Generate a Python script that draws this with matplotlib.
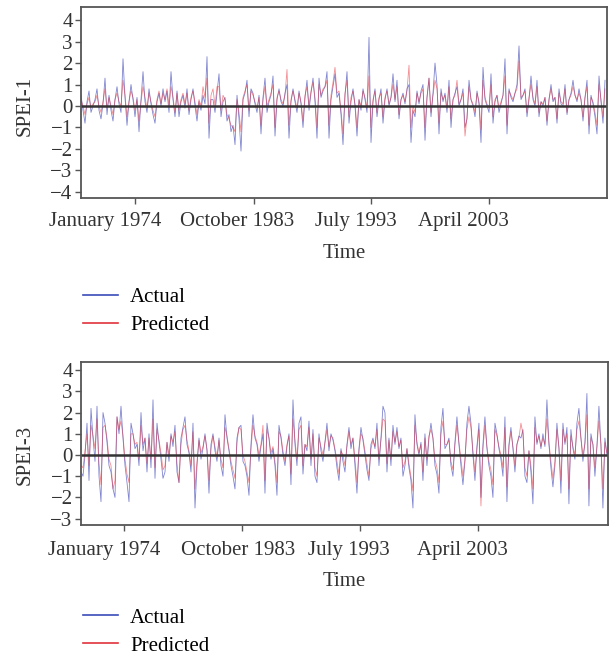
import numpy as np
import matplotlib.pyplot as plt
from matplotlib.lines import Line2D

plt.rcParams['font.family'] = ['Liberation Serif', 'DejaVu Serif']

# month index of each sample (every second month)
months_1 = np.arange(0, 525, 2)
months_3 = np.arange(0, 527, 2)

tick_labels = ['January 1974', 'October 1983', 'July 1993', 'April 2003']
ticks_1 = [54, 172.7, 290.4, 408]
ticks_3 = [43.3, 161.3, 279.5, 397.2]

spei1_actual = [
    0.5, -0.2, -0.8, 0.2, 0.7, -0.3, 0.0, 0.3, 0.8, -0.2,
    -0.6, 0.1, 1.3, -0.4, 0.5, -0.2, -0.7, 0.3, 0.9, 0.1,
    -0.3, 2.2, 0.4, -0.9, 0.2, 1.0, 0.3, -0.5, 0.4, -1.2,
    0.3, 1.6, 0.2, -0.3, 0.8, 0.1, -0.4, -0.8, 0.2, 0.6,
    0.0, 0.8, 0.2, 0.7, -0.3, 1.6, 0.3, -0.5, 0.7, -0.5,
    0.2, 0.5, -0.1, 0.8, -0.4, 0.3, 0.8, 0.0, -0.7, 0.2,
    -0.2, 0.5, 0.1, 2.3, -1.5, 0.3, 0.3, -0.3, 0.6, 1.5,
    -0.5, 0.2, 0.4, -0.7, -0.4, -1.2, -0.9, -1.8, 0.5, -0.6,
    -2.1, 0.3, 0.6, 1.2, -0.5, 0.8, 0.6, 0.1, -0.3, 0.5,
    -1.3, 0.4, 1.3, -0.3, 0.2, 0.5, 1.4, -1.4, 0.3, 0.8,
    0.2, 0.0, 0.6, 1.0, -1.5, 0.2, 0.8, 0.2, -0.3, 0.7,
    0.1, -1.0, 0.4, 1.2, -0.2, 0.6, 1.3, 0.2, -1.5, 1.3,
    0.4, 0.7, 0.9, 1.6, -1.5, 0.3, 0.9, 1.5, 0.4, 0.6,
    -0.4, -1.8, 0.5, 1.6, -0.8, 0.2, 0.8, 0.0, -1.4, 0.3,
    -0.2, 0.8, 0.3, -0.3, 3.2, -1.7, 0.2, 0.8, -0.5, 0.3,
    0.8, -0.8, 0.3, 0.8, 0.0, 0.4, 1.5, 0.2, 1.2, -0.6,
    0.3, 0.6, 0.1, 0.8, 1.0, -1.7, -0.2, -0.5, 0.7, 0.1,
    0.7, 1.0, -1.6, 0.4, 1.3, -0.5, 0.6, 2.0, 1.0, -1.3,
    0.8, 0.2, 0.6, -0.3, 1.2, -1.0, 0.3, 0.6, 0.9, 0.0,
    0.3, 0.8, -1.0, -0.6, 1.2, 0.3, 0.0, -0.5, 0.7, 0.1,
    -1.7, 1.8, 0.3, 0.0, -0.3, 1.5, -0.8, 0.2, 0.5, -0.3,
    0.1, 0.5, 2.2, -1.3, 0.8, 0.4, 0.2, 0.6, 1.0, 2.8,
    0.3, 0.5, 0.8, -0.5, 0.3, 1.4, 0.3, 0.0, 1.2, -0.5,
    0.2, 0.0, 0.4, -0.9, 0.3, 1.0, 0.2, 0.4, -0.8, 0.8,
    0.1, 0.0, 1.0, -0.4, 0.3, 0.6, 1.2, 0.5, 0.2, 0.8,
    0.3, -0.7, 0.4, 1.2, -1.3, 0.5, 0.1, -0.5, -1.3, 1.4,
    0.2, -0.8, 1.2,
]
spei1_predicted = [
    0.3, 0.0, -0.4, 0.1, 0.4, -0.1, 0.1, 0.2, 0.5, 0.0,
    -0.3, 0.2, 0.8, -0.1, 0.4, 0.0, -0.4, 0.3, 0.6, 0.2,
    0.0, 1.2, 0.5, -0.5, 0.2, 0.7, 0.4, -0.2, 0.3, -0.7,
    0.2, 0.9, 0.4, -0.1, 0.6, 0.2, -0.2, -0.5, 0.3, 0.7,
    0.1, 0.6, 0.3, 0.8, 0.0, 0.9, 0.4, -0.3, 0.6, -0.2,
    0.3, 0.6, 0.1, 0.6, -0.2, 0.4, 0.7, 0.2, -0.4, 0.3,
    0.0, 0.9, 0.4, 1.3, -0.8, 0.5, 0.8, 0.0, 0.9, 0.9,
    -0.2, 0.5, 0.3, -0.4, -0.6, -0.9, -1.0, -1.2, 0.3, -0.3,
    -1.2, 0.4, 0.7, 1.0, -0.2, 0.7, 0.5, 0.2, -0.1, 0.4,
    -0.9, 0.3, 0.9, 0.0, 0.3, 0.6, 1.0, -1.0, 0.4, 0.7,
    0.3, 0.1, 0.5, 1.7, -0.9, 0.3, 0.7, 0.3, -0.1, 0.6,
    0.2, -0.7, 0.5, 0.9, 0.0, 0.7, 1.1, 0.4, -1.0, 1.0,
    0.5, 0.8, 0.9, 1.2, -0.9, 0.5, 1.1, 1.8, 0.6, 0.7,
    -0.2, -1.3, 0.6, 1.2, -0.5, 0.4, 0.7, 0.1, -1.0, 0.3,
    0.0, 0.7, 0.4, -0.1, 1.4, -1.0, 0.3, 0.7, -0.3, 0.4,
    0.6, -0.5, 0.4, 0.7, 0.1, 0.4, 1.0, 0.3, 0.9, -0.4,
    0.3, 0.5, 0.2, 0.7, 1.9, -1.0, 0.0, -0.3, 0.6, 0.2,
    0.6, 0.8, -1.0, 0.4, 1.3, -0.3, 0.5, 1.2, 0.8, -0.8,
    0.6, 0.3, 0.5, -0.1, 0.9, -0.6, 0.3, 0.5, 1.2, 0.1,
    0.3, 0.6, -1.4, -0.5, 0.9, 0.3, 0.1, -0.3, 0.6, 0.2,
    -1.1, 1.2, 0.4, 0.1, -0.1, 1.0, -0.5, 0.3, 0.5, -0.1,
    0.2, 0.5, 1.4, -0.9, 0.7, 0.5, 0.3, 0.6, 0.8, 2.1,
    0.4, 0.5, 0.7, -0.3, 0.4, 1.0, 0.4, 0.1, 0.9, -0.3,
    0.2, 0.1, 0.4, -0.7, 0.3, 0.8, 0.3, 0.4, -0.6, 0.6,
    0.2, 0.1, 0.8, -0.3, 0.3, 0.5, 0.9, 0.5, 0.3, 0.6,
    0.3, -0.5, 0.4, 0.9, -0.9, 0.4, 0.2, -0.3, -0.9, 1.0,
    0.3, -0.5, 0.8,
]

spei3_actual = [
    -0.8, -1.0, 0.0, 1.5, -1.2, 2.2, 0.8, -0.3, 2.3, -1.0,
    -2.2, 2.0, 1.5, 0.6, -0.5, -0.8, -1.6, -2.0, 1.8, 1.0,
    2.3, 0.8, -0.5, -1.3, -2.2, 1.5, 1.0, 0.3, 0.5, -0.5,
    2.0, 0.2, 0.8, -0.8, 1.0, -0.6, 2.6, -1.1, 1.5, 0.6,
    -0.2, -1.1, -0.8, 0.6, -0.3, 1.0, 0.4, 1.4, -0.8, -1.3,
    0.8, 1.3, 1.8, 0.5, 0.1, -0.8, 1.5, -2.5, -0.5, 0.8,
    -0.2, 0.3, 1.0, 0.2, -1.8, 0.5, 1.0, 0.2, -0.3, 0.8,
    -0.5, -1.0, 1.9, 0.8, 0.2, -0.5, -1.0, -1.6, 0.8, 1.3,
    1.4, -0.3, -0.5, -1.0, -1.9, 0.5, 1.9, 0.8, 0.5, -0.3,
    0.4, 1.0, -1.8, 1.5, 0.8, -0.2, 0.3, -0.5, -1.9, 1.4,
    0.8, 0.0, -0.5, 0.4, 1.0, -1.4, 2.6, 0.5, -0.5, 1.5,
    1.8, -0.9, 0.5, 0.2, 1.6, -0.5, 1.2, -1.0, -1.3, 1.0,
    0.2, -0.3, 0.6, 1.5, 0.2, 1.0, 0.7, 0.2, -0.6, -1.2,
    0.3, -0.3, -0.8, 0.5, 1.3, 0.3, 0.8, -0.5, -1.8, 0.3,
    1.3, 0.7, 0.0, -0.7, -1.2, 0.5, 0.8, 0.3, 1.5, -0.5,
    0.8, 2.3, 2.0, -0.8, 0.8, -0.5, 1.4, 0.5, 1.3, 0.3,
    0.8, -1.0, -0.5, 0.3, -0.6, -1.2, -2.5, 1.9, 0.5, 0.0,
    0.6, -1.2, 1.0, -0.5, 0.8, 1.5, 0.8, -0.5, -0.9, -1.8,
    1.3, 2.2, 0.3, 0.5, 0.8, -0.5, -1.0, 0.6, 1.8, 0.5,
    -0.5, -1.4, -0.3, 1.5, 2.3, 1.5, 0.0, -1.2, 0.4, 1.5,
    -2.0, 0.5, 1.8, 0.3, -0.5, -1.0, -2.0, 1.5, 1.0, 0.3,
    -0.2, -1.0, 1.8, -2.2, 0.5, 1.3, 0.3, -0.8, 0.5, 0.9,
    0.8, 1.2, -1.0, -1.3, 0.2, -0.8, -2.3, 1.8, 0.5, 1.0,
    0.3, 1.0, 0.4, 2.6, 0.5, -0.6, -1.5, -0.5, 1.5, 0.3,
    -1.8, 1.5, 0.5, 1.3, -2.3, 1.2, 0.3, -0.2, 1.5, 2.2,
    0.8, -0.3, 0.6, 2.9, -2.4, 1.0, 0.5, -1.0, 0.4, 2.3,
    0.5, -2.5, 0.8, 0.0,
]
spei3_predicted = [
    -0.5, -0.6, 0.2, 1.0, -0.5, 1.4, 0.9, 0.3, 1.7, -0.4,
    -1.4, 1.3, 1.4, 0.8, -0.2, -0.5, -1.6, -1.2, 1.8, 1.2,
    1.6, 0.9, -0.2, -0.9, -1.3, 1.0, 1.0, 0.5, 0.6, -0.2,
    1.4, 0.5, 0.8, -0.4, 0.8, -0.2, 1.7, -0.6, 1.2, 0.7,
    0.1, -0.7, -0.5, 0.6, 0.0, 0.9, 0.6, 1.1, -0.4, -1.3,
    0.5, 1.2, 1.4, 0.7, 0.2, -0.5, 1.1, -1.6, -0.3, 0.7,
    0.1, 0.4, 0.9, 0.3, -1.2, 0.3, 0.9, 0.4, -0.1, 0.7,
    -0.2, -0.6, 1.3, 0.9, 0.3, -0.3, -0.7, -1.1, 0.6, 1.3,
    1.2, 0.0, -0.3, -0.8, -1.3, 0.3, 1.4, 0.9, 0.6, 0.0,
    0.5, 1.4, -1.2, 1.2, 0.8, 0.1, 0.4, -0.3, -1.3, 1.1,
    0.9, 0.2, -0.3, 0.5, 0.9, -0.9, 1.7, 0.7, -0.2, 1.2,
    1.4, -0.5, 0.5, 0.4, 1.3, -0.2, 1.0, -0.6, -1.0, 0.8,
    0.4, 0.0, 0.6, 1.2, 0.4, 0.9, 0.8, 0.3, -0.3, -0.9,
    0.2, 0.0, -0.5, 0.4, 1.1, 0.5, 0.8, -0.2, -1.3, 0.2,
    1.0, 0.8, 0.2, -0.4, -1.0, 0.3, 0.7, 0.4, 1.2, -0.2,
    0.7, 1.7, 1.6, -0.4, 0.7, -0.2, 1.1, 0.6, 1.1, 0.4,
    0.7, -0.6, -0.3, 0.3, -0.4, -1.0, -1.7, 1.4, 0.6, 0.1,
    0.5, -0.8, 0.8, -0.2, 0.9, 1.2, 0.8, -0.2, -0.6, -1.3,
    1.0, 1.6, 0.5, 0.5, 0.7, -0.3, -0.7, 0.5, 1.4, 0.6,
    -0.2, -1.0, -0.2, 1.2, 1.8, 1.3, 0.2, -0.8, 0.3, 1.2,
    -2.4, 0.3, 1.4, 0.4, -0.3, -0.7, -1.4, 1.2, 0.9, 0.4,
    0.0, -0.6, 1.3, -1.5, 0.4, 1.1, 0.4, -0.5, 0.5, 0.8,
    1.5, 1.0, -0.6, -1.0, 0.2, -0.5, -1.6, 1.3, 0.6, 0.9,
    0.4, 0.8, 0.5, 1.7, 0.6, -0.3, -1.1, -0.3, 1.2, 0.4,
    -1.2, 1.2, 0.6, 1.0, -1.6, 0.9, 0.4, 0.0, 1.2, 1.6,
    0.8, 0.0, 0.5, 1.9, -1.6, 0.8, 0.5, -0.6, 0.4, 1.6,
    0.5, -1.6, 0.6, 0.1,
]

BLUE = '#3d45b5'
RED = '#e8323c'
FS = 15

fig = plt.figure(figsize=(6.1, 6.57), dpi=100)
ax1 = fig.add_axes([0.1328, 0.6982, 0.8618, 0.2907])
ax3 = fig.add_axes([0.1328, 0.2009, 0.8633, 0.2486])


def draw(ax, months, actual, predicted, ylabel, ylim, yticks, xticks, xmax, dxs, lab_dy, time_y, ylab_y):
    ax.plot(months, actual, color=BLUE, lw=0.6, alpha=0.65)
    ax.plot(months, predicted, color=RED, lw=0.6, alpha=0.55)
    ax.axhline(0, color='#333333', lw=1.8)
    ax.set_xlim(0, xmax)
    ax.set_ylim(*ylim)
    ax.set_yticks(yticks)
    ax.set_yticklabels([f'{t:d}'.replace('-', '\u2212') for t in yticks], fontsize=FS, color='#333333')
    ax.set_xticks(xticks)
    ax.set_xticklabels([])
    # tick labels sit a little left of their ticks in the original
    for t, lab, dx in zip(xticks, tick_labels, dxs):
        ax.annotate(lab, xy=(t, 0), xycoords=('data', 'axes fraction'),
                    xytext=(dx * 0.72, -lab_dy * 0.72), textcoords='offset points',
                    ha='center', va='center', fontsize=FS, color='#333333')
    ax.tick_params(axis='both', direction='out', length=4, width=1, color='#555555')
    ax.tick_params(axis='y', pad=2)
    for s in ax.spines.values():
        s.set_color('#555555')
        s.set_linewidth(1.3)
    ax.set_xlabel('Time', fontsize=FS, color='#333333')
    ax.xaxis.set_label_coords(0.5, time_y)
    ax.set_ylabel(ylabel, fontsize=FS, color='#333333')
    ax.yaxis.set_label_coords(-0.089, ylab_y)
    handles = [Line2D([], [], color='#3a4bb8', lw=1.2), Line2D([], [], color='#e0323a', lw=1.2)]
    return handles


h = draw(ax1, months_1, spei1_actual, spei1_predicted, 'SPEI-1', (-4.3, 4.6),
         [-4, -3, -2, -1, 0, 1, 2, 3, 4], ticks_1, 525.7, [-30, -16.7, -15.8, -26], 23, -0.241, 0.483)
ax1.legend(h, ['Actual', 'Predicted'], loc='upper left', bbox_to_anchor=(83 / 610, 0.5624),
           bbox_transform=fig.transFigure, frameon=False, fontsize=FS, borderpad=0,
           borderaxespad=0, handlelength=1.68, handletextpad=0.58, labelspacing=0.4)

h = draw(ax3, months_3, spei3_actual, spei3_predicted, 'SPEI-3', (-3.3, 4.4),
         [-3, -2, -1, 0, 1, 2, 3, 4], ticks_3, 526.7, [-20, -4, -11.5, -16], 25, -0.287, 0.4287)
ax3.legend(h, ['Actual', 'Predicted'], loc='upper left', bbox_to_anchor=(83 / 610, 0.0745),
           bbox_transform=fig.transFigure, frameon=False, fontsize=FS, borderpad=0,
           borderaxespad=0, handlelength=1.68, handletextpad=0.58, labelspacing=0.4)

fig.savefig('out.png', dpi=100)
